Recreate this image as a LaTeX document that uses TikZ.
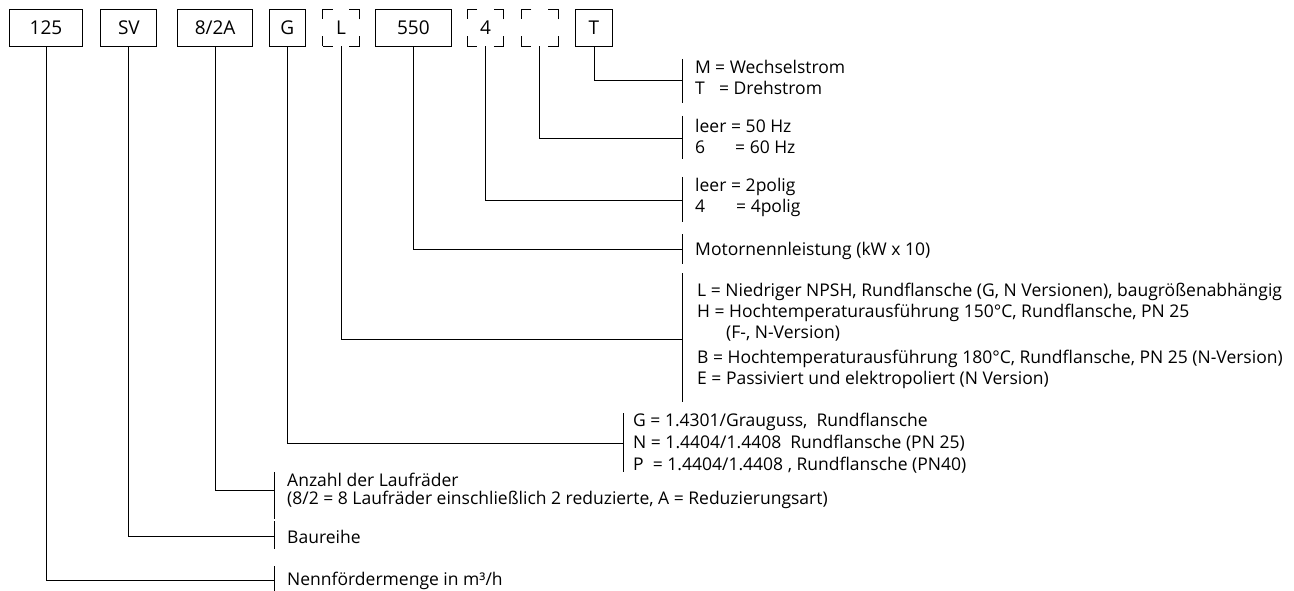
\documentclass[tikz,border=0pt]{standalone}
\usepackage{fontspec}
\setmainfont{Open Sans}
\usepackage{tikz}
\usetikzlibrary{positioning}

\begin{document}
\begin{tikzpicture}[x=1pt, y=-1pt, node distance=16pt, every node/.style={font=\fontsize{17.5}{21}\selectfont}]
    \tikzstyle{code} = [rectangle, draw, line width=0.9pt, inner sep=0pt, minimum height=36.7pt, font=\fontsize{19}{21}\selectfont]
    \tikzstyle{optcode} = [code, dash pattern=on 20pt off 16.7pt, dash phase=10pt, minimum width=36.7pt]
    \tikzstyle{line} = [draw, line width=0.9pt]
    \tikzstyle{legend} = [anchor=west, align=left, inner sep=0pt]
    \useasboundingbox (0,0) rectangle (1294,591);

    % code boxes
    \node [code, minimum width=73.4pt] at (46,27.7) (b125) {125};
    \node [code, minimum width=56pt, right=17.3pt of b125] (bSV) {SV};
    \node [code, minimum width=74.7pt, right=20pt of bSV] (bStages) {8/2A};
    \node [code, minimum width=35.6pt, right=16pt of bStages] (bMat) {G};
    \node [optcode, right=16.7pt of bMat] (bOpt) {L};
    \node [code, minimum width=75.7pt, right=15.3pt of bOpt] (bPower) {550};
    \node [optcode, right=15pt of bPower] (bPoles) {4};
    \node [optcode, right=16.6pt of bPoles] (bFreq) {};
    \node [code, minimum width=36.7pt, right=16.7pt of bFreq] (bPhase) {T};

    % brackets
    \coordinate (kPhase) at (682,80);
    \coordinate (kFreq) at (682,138);
    \coordinate (kPoles) at (682,200);
    \coordinate (kPower) at (682,249);
    \coordinate (kOpt) at (682,339);
    \coordinate (kMat) at (623,443);
    \coordinate (kStages) at (274,490);
    \coordinate (kSV) at (274,536);
    \coordinate (k125) at (274,580);
    \path [line] (682,59) -- (682,103);
    \path [line] (682,116) -- (682,159);
    \path [line] (682,177) -- (682,222);
    \path [line] (682,234) -- (682,264);
    \path [line] (682,273) -- (682,402);
    \path [line] (623,413) -- (623,472);
    \path [line] (274,472) -- (274,519);
    \path [line] (274,521) -- (274,549);
    \path [line] (274,566) -- (274,591);

    % legends
    \node [legend] at (695,77.5) (tPhase) {\makebox[20pt][l]{M}= Wechselstrom\\\makebox[24pt][l]{T}= Drehstrom};
    \node [legend] at (695,136) (tFreq) {\makebox[36pt][l]{leer}= 50 Hz\\\makebox[40pt][l]{6}= 60 Hz};
    \node [legend] at (695,197.5) (tPoles) {\makebox[36pt][l]{leer}= 2polig\\\makebox[41pt][l]{4}= 4polig};
    \node [legend] at (695,251) (tPower) {Motornennleistung (kW x 10)};
    \node [legend] at (697,335.5) (tOpt) {L = Niedriger NPSH, Rundflansche (G, N Versionen), baugrößenabhängig\\
        H = Hochtemperaturausführung 150°C, Rundflansche, PN 25\\
        \hspace*{29pt}(F-, N-Version)\\[4pt]
        B = Hochtemperaturausführung 180°C, Rundflansche, PN 25 (N-Version)\\
        E = Passiviert und elektropoliert (N Version)};
    \node [legend] at (633,443) (tMat) {G = 1.4301/Grauguss,\ \ Rundflansche\\[1pt]
        N = 1.4404/1.4408\ \ Rundflansche (PN 25)\\[1pt]
        P\ \ = 1.4404/1.4408 , Rundflansche (PN40)};
    \node [legend] at (287,490.5) (tStages) {Anzahl der Laufräder\\[-3pt](8/2 = 8 Laufräder einschließlich 2 reduzierte, A = Reduzierungsart)};
    \node [legend] at (287,537) (tSV) {Baureihe};
    \node [legend] at (287,581) (t125) {Nennfördermenge in m³/h};

    % connectors
    \path [line] (bPhase.south) |- (kPhase);
    \path [line] (bFreq.south) |- (kFreq);
    \path [line] (bPoles.south) |- (kPoles);
    \path [line] (bPower.south) |- (kPower);
    \path [line] (bOpt.south) |- (kOpt);
    \path [line] (bMat.south) |- (kMat);
    \path [line] (bStages.south) |- (kStages);
    \path [line] (bSV.south) |- (kSV);
    \path [line] (b125.south) |- (k125);
\end{tikzpicture}
\end{document}
